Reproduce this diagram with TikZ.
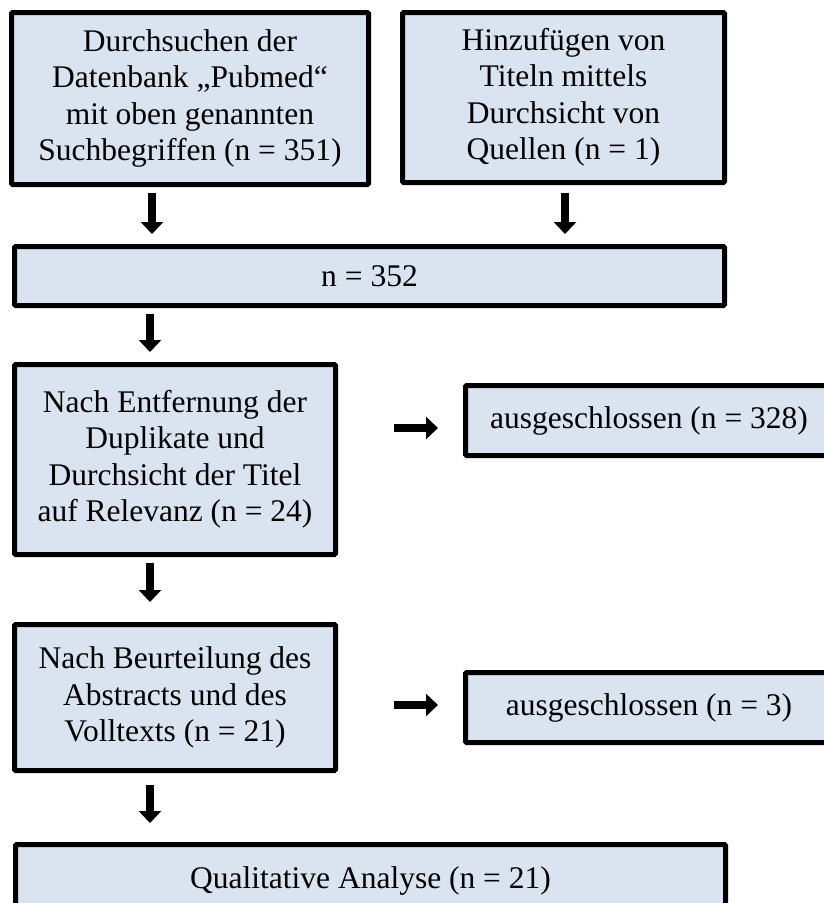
\documentclass[tikz,border=0pt]{standalone}
\usepackage{fontspec}
\setmainfont{Liberation Serif}
\usetikzlibrary{arrows.meta}
\definecolor{boxfill}{RGB}{218,227,240}
\tikzset{
  box/.style={draw=black, fill=boxfill, line width=5pt, rounded corners=1.2pt,
    inner sep=0pt, align=center, font=\fontsize{31.5}{36.5}\selectfont},
  arr/.style={line width=8pt, -{Triangle[length=12pt,width=22pt]}}
}
\begin{document}
\begin{tikzpicture}[x=1pt,y=-1pt]
\useasboundingbox (0,0) rectangle (824,903);
\clip (0,0) rectangle (824,903);
\node[box, minimum width=357pt, minimum height=172pt] (b1) at (190,98.5)
  {Durchsuchen der\\Datenbank „Pubmed“\\mit oben genannten\\Suchbegriffen (n = 351)};
\node[box, minimum width=322pt, minimum height=170pt] (b2) at (563.5,97.5)
  {Hinzufügen von\\Titeln mittels\\Durchsicht von\\Quellen (n = 1)};
\node[box, minimum width=710pt, minimum height=59pt] (n352) at (369.5,276) {n = 352};
\node[box, minimum width=321pt, minimum height=190pt] (b3) at (175,459.5)
  {Nach Entfernung der\\Duplikate und\\Durchsicht der Titel\\auf Relevanz (n = 24)};
\node[box, minimum width=367pt, minimum height=70pt] (e1) at (649,420.5) {ausgeschlossen (n = 328)};
\node[box, minimum width=321pt, minimum height=146pt] (b4) at (175,697.5)
  {Nach Beurteilung des\\Abstracts und des\\Volltexts (n = 21)};
\node[box, minimum width=367pt, minimum height=70pt] (e2) at (649,707.5) {ausgeschlossen (n = 3)};
\node[box, minimum width=710pt, minimum height=73pt] (q) at (370.5,881) {Qualitative Analyse (n = 21)};
\draw[arr] ([xshift=-38pt,yshift=-6pt]b1.south) -- ([xshift=-217.5pt,yshift=10pt]n352.north);
\draw[arr] ([xshift=1.5pt,yshift=-8pt]b2.south) -- ([xshift=195.5pt,yshift=10pt]n352.north);
\draw[arr] ([xshift=-219.5pt,yshift=-6pt]n352.south) -- ([xshift=-25pt,yshift=10pt]b3.north);
\draw[arr] ([xshift=-25pt,yshift=-6pt]b3.south) -- ([xshift=-25pt,yshift=20pt]b4.north);
\draw[arr] ([xshift=-25pt,yshift=-12pt]b4.south) -- ([xshift=-220.5pt,yshift=19pt]q.north);
\draw[arr] ([xshift=56pt,yshift=31.5pt]b3.east) -- ([xshift=-25pt,yshift=-7.5pt]e1.west);
\draw[arr] ([xshift=56pt,yshift=-7.5pt]b4.east) -- ([xshift=-25pt,yshift=2.5pt]e2.west);
\end{tikzpicture}
\end{document}
